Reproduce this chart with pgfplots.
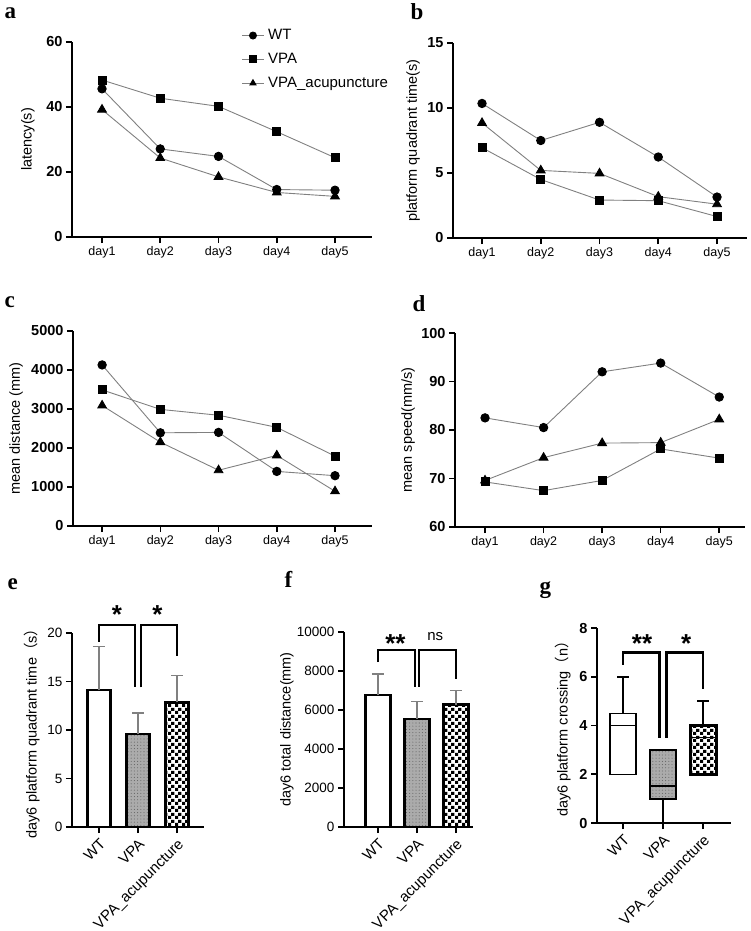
\documentclass[border=0pt]{standalone}
\usepackage{fontspec}
\setmainfont{Liberation Sans}
\newfontfamily\serifb{Liberation Serif}
\newfontfamily\cjk{Noto Sans CJK SC}
\usepackage{pgfplots}
\pgfplotsset{compat=1.18}
\usepgfplotslibrary{statistics}
\usetikzlibrary{patterns}

% checkerboard and small dots, sized like the GraphPad fills
\pgfdeclarepatternformonly{chk}{\pgfpointorigin}{\pgfqpoint{7pt}{7pt}}{\pgfqpoint{7pt}{7pt}}{%
  \pgfpathrectangle{\pgfpointorigin}{\pgfqpoint{3.5pt}{3.5pt}}%
  \pgfpathrectangle{\pgfqpoint{3.5pt}{3.5pt}}{\pgfqpoint{3.5pt}{3.5pt}}%
  \pgfusepath{fill}}
\pgfdeclarepatternformonly{smalldots}{\pgfqpoint{-0.7pt}{-0.7pt}}{\pgfqpoint{0.7pt}{0.7pt}}{\pgfqpoint{3.2pt}{3.2pt}}{%
  \pgfpathcircle{\pgfpointorigin}{0.55pt}\pgfusepath{fill}}

\newcommand{\fs}[1]{\fontsize{#1}{#1}\selectfont}

\tikzset{
  brk/.style={line width=2.3pt, black},
  sig/.style={anchor=base, font=\bfseries\fs{26}},
}

\pgfplotsset{
  gp/.style={
    scale only axis, clip=false,
    axis x line*=bottom, axis y line*=left,
    axis line style={line width=1.8pt,-},
    tick align=outside, major tick length=6pt,
    tick style={black, line width=1.6pt},
    scaled y ticks=false,
    ylabel style={font=\fs{14.5}, anchor=center},
    xticklabel style={font=\fs{12.5}},
    yticklabel style={font=\bfseries\fs{14.5}},
  },
  days/.style={xtick={1,2,3,4,5}, xticklabels={day1,day2,day3,day4,day5}},
  wt/.style={gray, line width=0.9pt, mark=*, mark size=4.2pt, mark options={black, fill=black}},
  vpa/.style={gray, line width=0.9pt, mark=square*, mark size=4pt, mark options={black, fill=black}},
  acu/.style={gray, line width=0.9pt, mark=triangle*, mark size=5pt, mark options={black, fill=black}},
  grp/.style={xtick={0,1,2}, xticklabels={WT,VPA,VPA\_acupuncture},
    xticklabel style={rotate=45, anchor=north east, font=\fs{15}},
    yticklabel style={font=\fs{13.5}}},
  barwt/.style={ybar, bar width=23pt, draw=black, line width=2.5pt, fill=white},
  barvpa/.style={ybar, bar width=23pt, draw=black, line width=2.5pt,
    preaction={fill=black!33}, pattern=smalldots, pattern color=black!60},
  baracu/.style={ybar, bar width=23pt, draw=black, line width=2.8pt,
    preaction={fill=white}, pattern=chk, pattern color=black},
  errb/.style={error bars/.cd, y dir=plus, y explicit,
    error bar style={gray, line width=1.3pt},
    error mark options={rotate=90, gray, line width=1.3pt, mark size=6pt}},
}

\begin{document}
\begin{tikzpicture}

% a
\begin{axis}[gp, days, at={(72pt,-237pt)}, anchor=south west, width=300pt, height=195pt,
  xmin=0.485, xmax=5.635, ymin=0, ymax=60,
  ytick={0,20,40,60}, yticklabels={0,20,40,60},
  ylabel={latency(s)}, ylabel style={at={(axis description cs:-0.147,0.5)}},
  legend cell align=left,
  legend image code/.code={%
    \draw[mark repeat=2, mark phase=2, mark size=3.5pt]
      plot coordinates {(0cm,0cm) (0.38cm,0cm) (0.76cm,0cm)};},
  legend style={at={(0.555,1.085)}, anchor=north west, draw=none, fill=none,
    font=\fs{15}, row sep=8pt, column sep=2pt}]
\addplot[wt] coordinates {(1,45.6) (2,27.1) (3,24.8) (4,14.6) (5,14.4)};
\addplot[vpa] coordinates {(1,48.3) (2,42.7) (3,40.2) (4,32.4) (5,24.4)};
\addplot[acu] coordinates {(1,39.2) (2,24.3) (3,18.5) (4,13.7) (5,12.5)};
\legend{WT,VPA,VPA\_acupuncture}
\end{axis}

% b
\begin{axis}[gp, days, at={(453pt,-238pt)}, anchor=south west, width=294pt, height=195pt,
  xmin=0.506, xmax=5.51, ymin=0, ymax=15,
  ytick={0,5,10,15}, yticklabels={0,5,10,15},
  ylabel={platform quadrant time(s)}, ylabel style={at={(axis description cs:-0.136,0.5)}}]
\addplot[wt] coordinates {(1,10.35) (2,7.5) (3,8.9) (4,6.23) (5,3.15)};
\addplot[vpa] coordinates {(1,6.95) (2,4.5) (3,2.92) (4,2.87) (5,1.65)};
\addplot[acu] coordinates {(1,8.85) (2,5.2) (3,4.97) (4,3.18) (5,2.6)};
\end{axis}

% c
\begin{axis}[gp, days, at={(73pt,-526pt)}, anchor=south west, width=299pt, height=195pt,
  xmin=0.5, xmax=5.635, ymin=0, ymax=5000,
  ytick={0,1000,2000,3000,4000,5000}, yticklabels={0,1000,2000,3000,4000,5000},
  ylabel={mean distance (mm)}, ylabel style={at={(axis description cs:-0.19,0.5)}}]
\addplot[wt] coordinates {(1,4130) (2,2390) (3,2400) (4,1400) (5,1290)};
\addplot[vpa] coordinates {(1,3490) (2,2990) (3,2840) (4,2530) (5,1790)};
\addplot[acu] coordinates {(1,3090) (2,2150) (3,1430) (4,1810) (5,890)};
\end{axis}

% d
\begin{axis}[gp, days, at={(455pt,-527pt)}, anchor=south west, width=290pt, height=194pt,
  xmin=0.487, xmax=5.44, ymin=60, ymax=100,
  ytick={60,70,80,90,100}, yticklabels={60,70,80,90,100},
  ylabel={mean speed(mm/s)}, ylabel style={at={(axis description cs:-0.162,0.5)}}]
\addplot[wt] coordinates {(1,82.5) (2,80.5) (3,92) (4,93.8) (5,86.8)};
\addplot[vpa] coordinates {(1,69.3) (2,67.5) (3,69.6) (4,76.1) (5,74.2)};
\addplot[acu] coordinates {(1,69.6) (2,74.3) (3,77.3) (4,77.4) (5,82.2)};
\end{axis}

% e
\begin{axis}[gp, grp, at={(72pt,-827pt)}, anchor=south west, width=132pt, height=194pt,
  xmin=-0.69, xmax=2.69, ymin=0, ymax=20,
  ytick={0,5,10,15,20}, yticklabels={0,5,10,15,20},
  ylabel={day6 platform quadrant time{\cjk （}s{\cjk ）}},
  ylabel style={at={(axis description cs:-0.303,0.5)}}]
\addplot[barwt, errb] coordinates {(0,14.1) +- (0,4.5)};
\addplot[barvpa, errb] coordinates {(1,9.6) +- (0,2.15)};
\addplot[baracu, errb] coordinates {(2,12.85) +- (0,2.75)};
\draw[brk] (axis cs:0,19.1) -- (axis cs:0,20.8) -- (axis cs:0.93,20.8) -- (axis cs:0.93,14.4);
\draw[brk] (axis cs:1.07,14.4) -- (axis cs:1.07,20.8) -- (axis cs:2,20.8) -- (axis cs:2,17.6);
\node[sig] at (axis cs:0.46,21.0) {*};
\node[sig] at (axis cs:1.5,21.0) {*};
\end{axis}

% f
\begin{axis}[gp, grp, at={(344pt,-827pt)}, anchor=south west, width=129pt, height=195pt,
  xmin=-0.87, xmax=2.44, ymin=0, ymax=10000,
  ytick={0,2000,4000,6000,8000,10000}, yticklabels={0,2000,4000,6000,8000,10000},
  ylabel={day6 total distance(mm)},
  ylabel style={at={(axis description cs:-0.442,0.5)}}]
\addplot[barwt, bar width=25pt, errb] coordinates {(0,6760) +- (0,1080)};
\addplot[barvpa, bar width=25pt, errb] coordinates {(1,5540) +- (0,900)};
\addplot[baracu, bar width=25pt, errb] coordinates {(2,6270) +- (0,740)};
\draw[brk] (axis cs:0,8460) -- (axis cs:0,9070) -- (axis cs:0.95,9070) -- (axis cs:0.95,7180);
\draw[brk] (axis cs:1.05,7180) -- (axis cs:1.05,9070) -- (axis cs:2,9070) -- (axis cs:2,7600);
\node[sig] at (axis cs:0.45,8950) {**};
\node[anchor=base, font=\fs{15}] at (axis cs:1.47,9590) {ns};
\end{axis}

% g
\begin{axis}[gp, grp, at={(597pt,-823pt)}, anchor=south west, width=134pt, height=195pt,
  xmin=-0.65, xmax=2.7, ymin=0, ymax=8,
  ytick={0,2,4,6,8}, yticklabels={0,2,4,6,8},
  yticklabel style={font=\bfseries\fs{14.5}},
  boxplot/draw direction=y,
  ylabel={day6 platform crossing{\cjk （}n{\cjk ）}},
  ylabel style={at={(axis description cs:-0.254,0.5)}}]
\addplot[black, line width=1.8pt,
  boxplot prepared={draw position=0, lower whisker=2, lower quartile=2, median=4,
    upper quartile=4.5, upper whisker=6, box extend=0.65, whisker extend=0.3},
  boxplot/every box/.style={draw=black, line width=1.5pt, fill=white},
  boxplot/every median/.style={line width=1.5pt}] coordinates {};
\addplot[black, line width=1.8pt,
  boxplot prepared={draw position=1, lower whisker=0, lower quartile=1, median=1.5,
    upper quartile=3, upper whisker=3, box extend=0.65, whisker extend=0.3},
  boxplot/every box/.style={draw=black, line width=2.2pt, preaction={fill=black!33},
    pattern=smalldots, pattern color=black!60},
  boxplot/every median/.style={line width=2pt}] coordinates {};
\addplot[black, line width=1.8pt,
  boxplot prepared={draw position=2, lower whisker=2, lower quartile=2, median=3.5,
    upper quartile=4, upper whisker=5, box extend=0.65, whisker extend=0.3},
  boxplot/every box/.style={draw=black, line width=3pt, preaction={fill=white},
    pattern=chk, pattern color=black},
  boxplot/every median/.style={line width=1.5pt}] coordinates {};
\draw[brk] (axis cs:0,6.5) -- (axis cs:0,7) -- (axis cs:0.915,7) -- (axis cs:0.915,3.5);
\draw[brk] (axis cs:1.085,3.5) -- (axis cs:1.085,7) -- (axis cs:2,7) -- (axis cs:2,5.5);
\node[sig] at (axis cs:0.475,7.0) {**};
\node[sig] at (axis cs:1.58,7.0) {*};
\end{axis}

% panel letters
\begin{scope}[every node/.style={anchor=base west, font=\serifb\bfseries\fs{23}}]
\node at (1pt,-19pt) {a};
\node at (407pt,-20pt) {b};
\node at (1pt,-307pt) {c};
\node at (409pt,-311pt) {d};
\node at (4pt,-589pt) {e};
\node at (281pt,-587pt) {f};
\node at (536pt,-593pt) {g};
\end{scope}

\pgfresetboundingbox
\useasboundingbox (0,0) rectangle (750pt,-931pt);
\end{tikzpicture}
\end{document}
